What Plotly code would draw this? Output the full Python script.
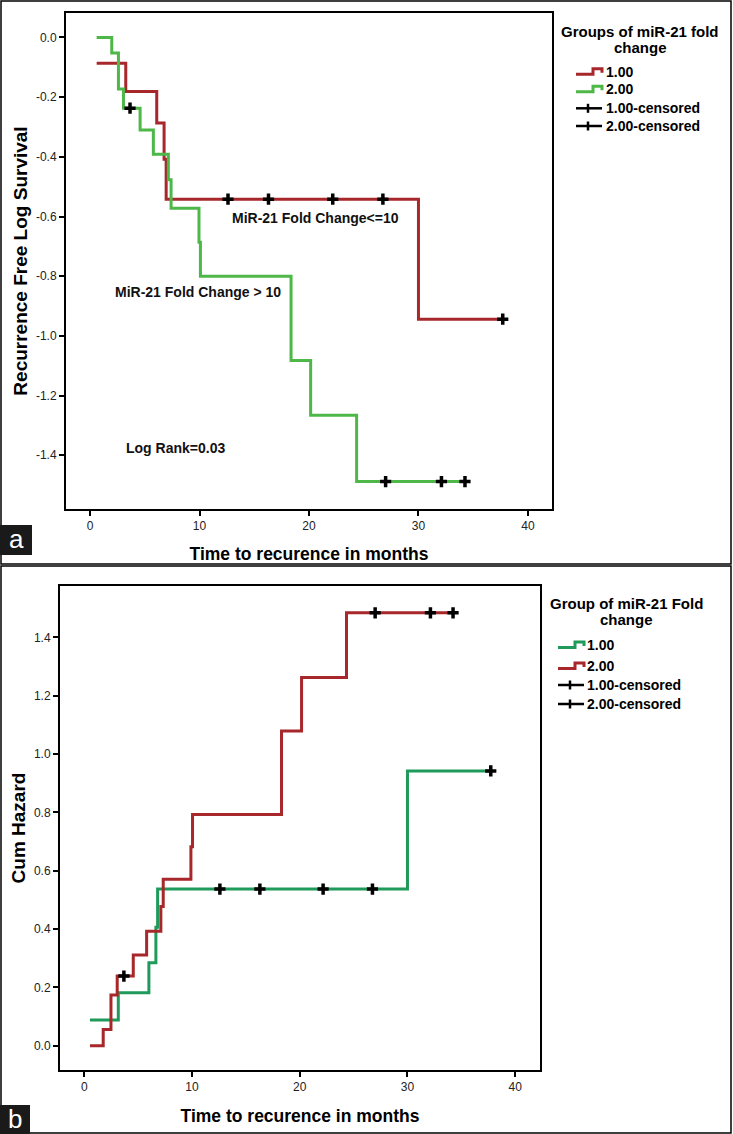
import plotly.graph_objects as go

W, H = 733, 1134

# ---- panel a: log survival (step curves) ----
a_g1_time = [0.6, 3.26, 6.09, 6.76, 6.95, 30.0, 37.7]
a_g1_logs = [-0.086, -0.181, -0.287, -0.408, -0.542, -0.944, -0.944]
a_g2_time = [0.6, 1.98, 2.59, 3.05, 4.57, 5.78, 7.15, 7.4, 9.95, 10.08, 18.36, 20.15, 24.35, 34.25]
a_g2_logs = [0.0, -0.052, -0.173, -0.237, -0.31, -0.391, -0.477, -0.572, -0.686, -0.80, -1.082, -1.266, -1.488, -1.488]
a_g1_cens_time = [12.6, 16.3, 22.17, 26.75, 37.7]
a_g1_cens_logs = [-0.542, -0.542, -0.542, -0.542, -0.944]
a_g2_cens_time = [3.65, 27.0, 32.1, 34.25]
a_g2_cens_logs = [-0.237, -1.488, -1.488, -1.488]

# ---- panel b: cumulative hazard ----
b_g1_time = [0.53, 3.16, 6.0, 6.65, 6.81, 30.0, 37.73]
b_g1_haz = [0.088, 0.182, 0.285, 0.406, 0.537, 0.942, 0.942]
b_g2_time = [0.53, 1.76, 2.48, 3.06, 4.55, 5.79, 7.11, 7.33, 9.9, 10.05, 18.31, 20.17, 24.34, 34.23]
b_g2_haz = [0.0, 0.056, 0.174, 0.239, 0.311, 0.393, 0.477, 0.571, 0.682, 0.793, 1.079, 1.262, 1.484, 1.484]
b_g1_cens_time = [12.59, 16.3, 22.17, 26.75, 37.73]
b_g1_cens_haz = [0.537, 0.537, 0.537, 0.537, 0.942]
b_g2_cens_time = [3.68, 27.0, 32.13, 34.23]
b_g2_cens_haz = [0.239, 1.484, 1.484, 1.484]

x_ticks = [0, 10, 20, 30, 40]
a_y_ticks = [0.0, -0.2, -0.4, -0.6, -0.8, -1.0, -1.2, -1.4]
a_y_labels = ["0.0", "-0.2", "-0.4", "-0.6", "-0.8", "-1.0", "-1.2", "-1.4"]
b_y_ticks = [0.0, 0.2, 0.4, 0.6, 0.8, 1.0, 1.2, 1.4]
b_y_labels = ["0.0", "0.2", "0.4", "0.6", "0.8", "1.0", "1.2", "1.4"]

RED = "#a8272b"
GREEN_A = "#4db848"
GREEN_B = "#1f9a5a"
FONT = "Arial, Liberation Sans, sans-serif"


def px(x):
    return x / W


def py(y):
    return 1 - y / H


fig = go.Figure()

# panel a curves
fig.add_trace(go.Scatter(x=a_g1_time, y=a_g1_logs, mode="lines", line_shape="hv",
                         line=dict(color=RED, width=3), xaxis="x", yaxis="y"))
fig.add_trace(go.Scatter(x=a_g2_time, y=a_g2_logs, mode="lines", line_shape="hv",
                         line=dict(color=GREEN_A, width=3), xaxis="x", yaxis="y"))
# panel b curves
fig.add_trace(go.Scatter(x=b_g1_time, y=b_g1_haz, mode="lines", line_shape="hv",
                         line=dict(color=GREEN_B, width=3), xaxis="x2", yaxis="y2"))
fig.add_trace(go.Scatter(x=b_g2_time, y=b_g2_haz, mode="lines", line_shape="hv",
                         line=dict(color=RED, width=3), xaxis="x2", yaxis="y2"))

# censored marks
cens = dict(symbol="cross-thin", size=8, color="black", line=dict(color="black", width=3.5))
for xs, ys, xa, ya in [(a_g1_cens_time, a_g1_cens_logs, "x", "y"),
                       (a_g2_cens_time, a_g2_cens_logs, "x", "y"),
                       (b_g1_cens_time, b_g1_cens_haz, "x2", "y2"),
                       (b_g2_cens_time, b_g2_cens_haz, "x2", "y2")]:
    fig.add_trace(go.Scatter(x=xs, y=ys, mode="markers", marker=cens, xaxis=xa, yaxis=ya))

axis_common = dict(showline=True, mirror=True, linecolor="black", linewidth=2,
                   ticks="outside", ticklen=5, tickwidth=1.5, tickcolor="black",
                   showgrid=False, zeroline=False,
                   tickfont=dict(family=FONT, size=12, color="#222"))
xtitle_font = dict(family=FONT, size=17.5, color="black", weight="bold")
ytitle_font = dict(family=FONT, size=19, color="black", weight="bold")

fig.update_layout(
    width=W, height=H, autosize=False,
    margin=dict(l=0, r=0, t=0, b=0),
    paper_bgcolor="white", plot_bgcolor="white",
    showlegend=False,
    xaxis=dict(axis_common, domain=[px(66), px(552)], anchor="y", range=[-2.2, 42.2],
               tickvals=x_ticks,
               title=dict(text="Time to recurence in months", font=xtitle_font, standoff=15)),
    yaxis=dict(axis_common, domain=[py(509), py(13)], anchor="x", range=[-1.58, 0.082],
               tickvals=a_y_ticks, ticktext=a_y_labels,
               title=dict(text="Recurrence Free Log Survival", font=ytitle_font, standoff=3)),
    xaxis2=dict(axis_common, domain=[px(60), px(540)], anchor="y2", range=[-2.25, 42.3],
                tickvals=x_ticks,
                title=dict(text="Time to recurence in months", font=xtitle_font, standoff=16)),
    yaxis2=dict(axis_common, domain=[py(1070), py(586)], anchor="x2", range=[-0.083, 1.576],
                tickvals=b_y_ticks, ticktext=b_y_labels,
                title=dict(text="Cum Hazard", font=ytitle_font, standoff=3)),
)

# in-plot notes (panel a)
note_font = dict(family=FONT, size=14, color="#111", weight="bold")
for txt, cx, cy in [("MiR-21 Fold Change<=10", 315, 218),
                    ("MiR-21 Fold Change > 10", 198, 292),
                    ("Log Rank=0.03", 175, 448)]:
    fig.add_annotation(x=px(cx), y=py(cy), xref="paper", yref="paper", showarrow=False,
                       text=txt, font=note_font, xanchor="center", yanchor="middle")

# hand-built SPSS style legends
leg_font = dict(family=FONT, size=14, color="black", weight="bold")
leg_title_font = dict(family=FONT, size=15, color="black", weight="bold")
shapes = []


def legend_block(title_lines, cx, rows, x0, text_x, colors):
    for line, ty in title_lines:
        fig.add_annotation(x=px(cx), y=py(ty), xref="paper", yref="paper", showarrow=False,
                           text=line, font=leg_title_font,
                           xanchor="center", yanchor="middle")
    for i, lab in enumerate(rows):
        yc = rows[lab]
        fig.add_annotation(x=px(text_x), y=py(yc), xref="paper", yref="paper",
                           showarrow=False, text=lab, font=leg_font,
                           xanchor="left", yanchor="middle")
        if i < 2:
            path = (f"M {px(x0)} {py(yc + 2.5)} L {px(x0 + 17)} {py(yc + 2.5)} "
                    f"L {px(x0 + 17)} {py(yc - 3)} L {px(x0 + 26)} {py(yc - 3)} "
                    f"L {px(x0 + 26)} {py(yc + 1)}")
            shapes.append(dict(type="path", xref="paper", yref="paper", path=path,
                               line=dict(color=colors[i], width=3)))
        else:
            shapes.append(dict(type="line", xref="paper", yref="paper",
                               x0=px(x0), x1=px(x0 + 26), y0=py(yc), y1=py(yc),
                               line=dict(color="black", width=2.5)))
            shapes.append(dict(type="line", xref="paper", yref="paper",
                               x0=px(x0 + 12), x1=px(x0 + 12), y0=py(yc - 4.5), y1=py(yc + 4.5),
                               line=dict(color="black", width=2.5)))


legend_block([("Groups of miR-21 fold", 31.5), ("change", 47)], 640,
             {"1.00": 71.7, "2.00": 89.3, "1.00-censored": 108.3, "2.00-censored": 126},
             576, 604, [RED, GREEN_A])
legend_block([("Group of miR-21 Fold", 603.5), ("change", 619)], 626,
             {"1.00": 645, "2.00": 666, "1.00-censored": 685, "2.00-censored": 704},
             558, 585, [GREEN_B, RED])

# panel frames
shapes.append(dict(type="rect", xref="paper", yref="paper", x0=px(1), x1=px(731),
                   y0=py(564), y1=py(1), line=dict(color="black", width=1.5)))
shapes.append(dict(type="rect", xref="paper", yref="paper", x0=px(1), x1=px(731),
                   y0=py(1133), y1=py(566), line=dict(color="black", width=1.5)))
# panel letter boxes
for lab, y0, y1, w in [("a", 525, 555, 32), ("b", 1105, 1134, 30)]:
    shapes.append(dict(type="rect", xref="paper", yref="paper", x0=0, x1=px(w),
                       y0=py(y1), y1=py(y0), fillcolor="#1a1a1a", line=dict(width=0)))
    fig.add_annotation(x=px(w / 2), y=py((y0 + y1) / 2 - 1), xref="paper", yref="paper",
                       showarrow=False, text=lab, xanchor="center", yanchor="middle",
                       font=dict(family=FONT, size=26, color="white"))

fig.update_layout(shapes=shapes)

# page has a default body margin; drop it so the figure fills the window
fig.write_html("out.html", config={"displayModeBar": False},
               post_script="document.body.style.margin='0';")
